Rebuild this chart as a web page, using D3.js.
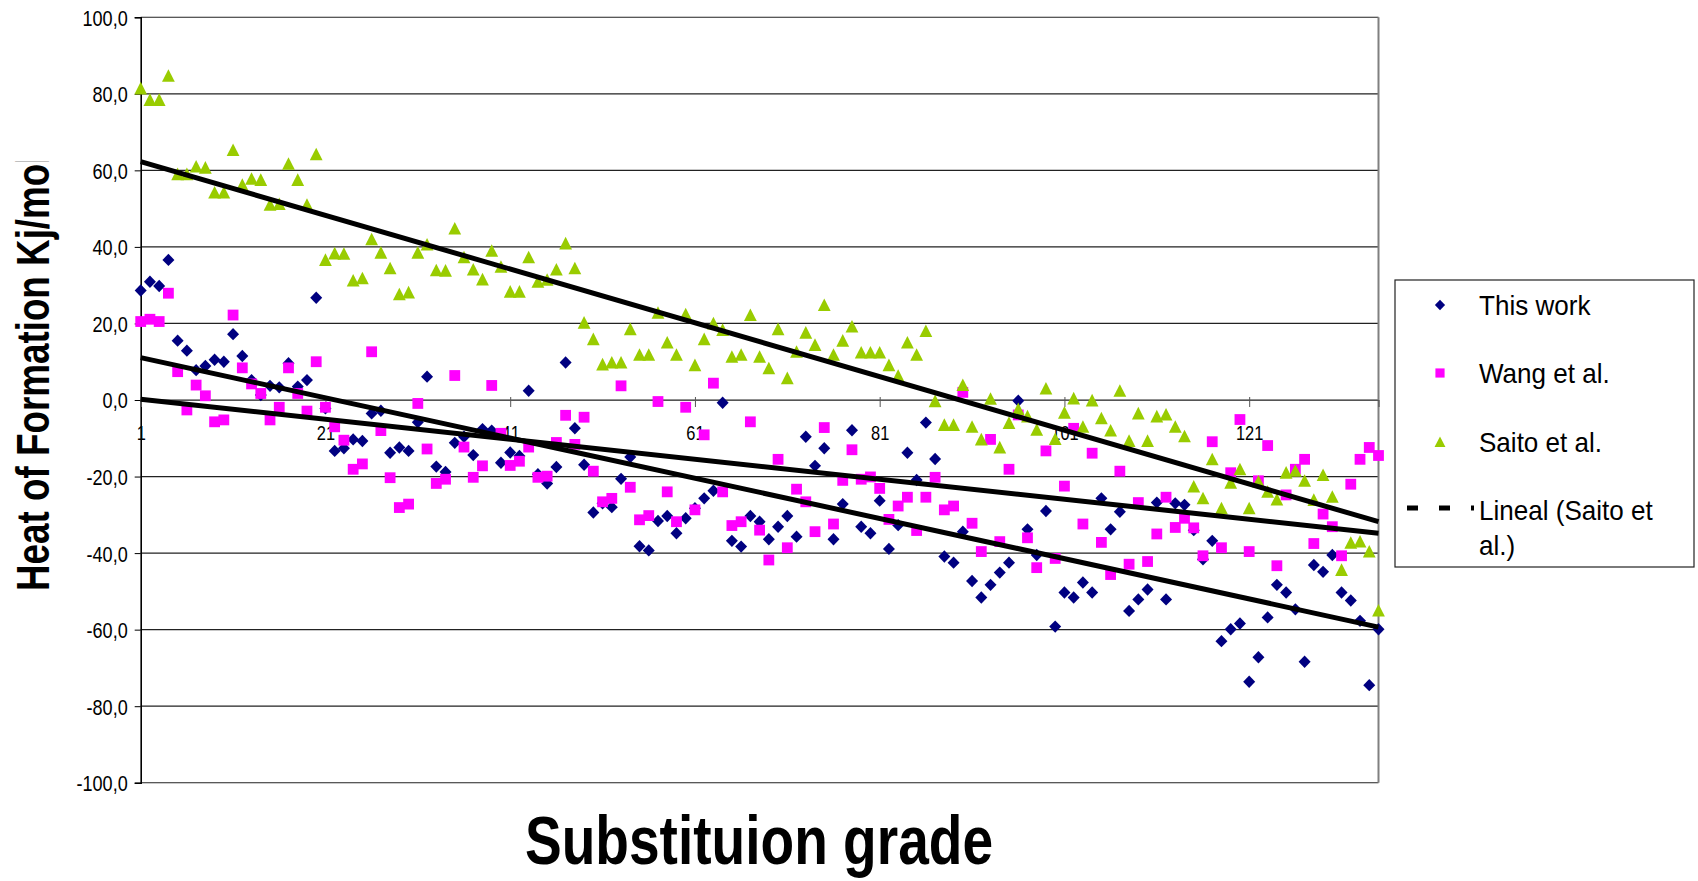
<!DOCTYPE html>
<html>
<head>
<meta charset="utf-8">
<script src="https://cdn.jsdelivr.net/npm/d3@7"></script>
<style>
body { margin:0; background:#fff; }
text { font-family:"Liberation Sans", Arial, sans-serif; fill:#000; }
</style>
</head>
<body>
<div id="chart-box"></div>
<script>

/******data******/
var thisWork = [28.6,30.9,29.8,36.6,15.5,12.9,7.8,8.9,10.5,10.0,17.2,11.5,5.2,1.3,3.7,3.3,9.6,3.5,5.2,26.7,
    -2.2,-13.3,-12.6,-10.3,-10.7,-3.5,-2.8,-13.8,-12.4,-13.3,-5.8,6.1,-17.4,-18.8,-11.2,-9.6,-14.4,-7.6,-8.0,-16.4,
    -13.7,-14.6,2.4,-19.4,-21.8,-17.5,9.8,-7.4,-16.9,-29.4,-27.0,-28.0,-20.6,-14.9,-38.2,-39.3,-31.6,-30.3,-34.8,-30.9,
    -28.3,-25.7,-23.7,-0.7,-36.8,-38.3,-30.3,-31.8,-36.4,-33.1,-30.3,-35.7,-9.6,-17.2,-12.6,-36.4,-27.2,-7.9,-33.1,-34.8,
    -26.3,-38.9,-32.7,-13.8,-20.9,-5.9,-15.4,-40.9,-42.5,-34.4,-47.3,-51.6,-48.3,-45.1,-42.5,-0.2,-33.8,-40.5,-29.0,-59.2,
    -50.3,-51.6,-47.7,-50.3,-25.7,-33.8,-29.2,-55.1,-52.1,-49.5,-26.8,-52.1,-27.0,-27.4,-34.0,-41.6,-36.8,-63.0,-59.9,-58.4,
    -73.6,-67.2,-56.8,-48.3,-50.3,-54.7,-68.4,-43.1,-44.9,-40.5,-50.3,-52.4,-57.7,-74.5,-59.9];

var wang = [20.5,21.1,20.5,27.9,7.4,-2.6,3.9,1.1,-5.7,-5.2,22.2,8.4,4.2,1.7,-5.2,-1.9,8.4,1.7,-2.9,10.0,
    -1.9,-7.0,-10.5,-18.1,-16.7,12.6,-8.0,-20.3,-28.1,-27.2,-0.9,-12.8,-21.8,-20.7,6.4,-12.3,-20.2,-17.2,3.8,-8.7,
    -17.1,-16.0,-12.3,-20.2,-19.9,-11.1,-4.0,-11.6,-4.5,-18.6,-26.6,-25.7,3.7,-22.8,-31.3,-30.2,-0.4,-24.0,-31.8,-1.9,
    -28.7,-9.1,4.4,-24.0,-32.8,-31.8,-5.7,-34.0,-41.8,-15.5,-38.6,-23.3,-26.6,-34.4,-7.2,-32.4,-21.0,-13.0,-20.7,-20.1,
    -23.1,-31.2,-27.7,-25.4,-34.1,-25.4,-20.2,-28.7,-27.7,2.0,-32.2,-39.6,-10.3,-37.0,-18.1,-3.9,-36.0,-43.8,-13.3,-41.4,
    -22.5,-7.4,-32.4,-13.9,-37.2,-45.6,-18.6,-42.9,-26.8,-42.2,-35.0,-25.4,-33.3,-30.9,-33.4,-40.7,-10.9,-38.6,-19.0,-5.1,
    -39.6,-21.1,-11.9,-43.3,-24.8,-18.1,-15.5,-37.5,-29.8,-33.1,-40.7,-22.0,-15.5,-12.4,-14.5];

var saito = [81.4,78.4,78.4,84.7,59.0,59.0,61.0,60.7,54.2,54.2,65.3,56.2,57.8,57.5,51.0,51.2,61.7,57.5,51.0,64.2,
    36.6,38.3,38.2,31.2,31.8,42.0,38.5,34.4,27.6,28.1,38.5,40.6,33.9,33.8,44.8,37.3,34.1,31.5,39.0,34.8,
    28.3,28.3,37.3,30.9,31.4,34.1,40.9,34.4,20.2,15.9,9.3,9.8,9.8,18.5,11.8,11.8,22.8,15.0,11.8,22.4,
    9.1,15.9,20.0,18.3,11.3,11.8,22.2,11.3,8.3,18.5,5.7,12.6,17.6,14.4,24.8,11.8,15.5,19.2,12.4,12.4,
    12.4,9.1,6.3,15.0,11.8,18.0,-0.3,-6.5,-6.5,3.9,-7.0,-10.3,0.3,-12.4,-6.0,-2.4,-4.3,-7.8,3.0,-10.2,
    -3.3,0.4,-7.0,-0.1,-4.8,-8.0,2.4,-10.7,-3.5,-10.7,-4.3,-3.8,-7.0,-9.5,-22.6,-25.7,-15.5,-28.3,-21.6,-18.1,
    -28.3,-21.3,-24.0,-26.0,-19.0,-18.5,-21.1,-26.1,-19.6,-25.3,-44.4,-37.3,-37.0,-39.6,-55.0];

var xTicks = [1, 21, 41, 61, 81, 101, 121];
var yTicks = [-100, -80, -60, -40, -20, 0, 20, 40, 60, 80, 100];
var legendNames = ["This work", "Wang et al.", "Saito et al.", "Lineal (Saito et al.)", "Lineal (This work)", "Lineal (Wang et al.)"];

var navy = "#000080";
var pink = "#ff00ff";
var lime = "#99cc00";

var width = 1698, height = 881;

var x = d3.scaleLinear().domain([1, thisWork.length]).range([140.7, 1378.5]);
var y = d3.scaleLinear().domain([-100, 100]).range([782.75, 17.25]);

var locale = d3.formatLocale({decimal: ",", thousands: ".", grouping: [3], currency: ["", ""], minus: "-"});
var fmt = locale.format(".1f");

var svg = d3.select("#chart-box").append("svg")
    .attr("width", width)
    .attr("height", height);

// squeeze text horizontally like the narrow font of the original
function squeeze(sel, k) {
    sel.each(function () {
        var w = this.getComputedTextLength();
        d3.select(this).attr("textLength", w * k).attr("lengthAdjust", "spacingAndGlyphs");
    });
}

/******grid******/
svg.append("g").selectAll("line")
    .data(yTicks)
    .enter().append("line")
    .attr("x1", x(1)).attr("x2", x(thisWork.length))
    .attr("y1", function (d) { return y(d); })
    .attr("y2", function (d) { return y(d); })
    .attr("stroke", "#222")
    .attr("stroke-width", 1.2);

// right frame
svg.append("line")
    .attr("x1", x(thisWork.length)).attr("x2", x(thisWork.length))
    .attr("y1", y(100)).attr("y2", y(-100))
    .attr("stroke", "#808080").attr("stroke-width", 2);

/******y axis******/
var yAxis = svg.append("g")
    .attr("transform", "translate(" + x(1) + ",0)")
    .call(d3.axisLeft(y).tickValues(yTicks).tickSize(6).tickPadding(7).tickFormat(fmt));
yAxis.select(".domain").attr("stroke", "#000").attr("stroke-width", 1.6);
yAxis.selectAll(".tick line").attr("stroke", "#000");
yAxis.selectAll("text")
    .style("font-family", "Liberation Sans, Arial, sans-serif")
    .style("font-size", "22px")
    .attr("dy", "0.36em");
squeeze(yAxis.selectAll("text"), 0.82);

/******x axis (crosses at 0)******/
var xAxis = svg.append("g")
    .attr("transform", "translate(0," + y(0) + ")")
    .call(d3.axisBottom(x).tickValues(xTicks).tickSize(7).tickPadding(0).tickFormat(d3.format("d")));
xAxis.select(".domain").attr("stroke", "#555").attr("stroke-width", 1.2);
xAxis.selectAll(".tick line").attr("stroke", "#555").attr("y1", -3);
xAxis.selectAll("text")
    .attr("y", 40).attr("dy", 0)
    .style("font-family", "Liberation Sans, Arial, sans-serif")
    .style("font-size", "20px");
squeeze(xAxis.selectAll("text"), 0.82);

/******markers******/
var diamondPath = "M0,-6.2L6,0L0,6.2L-6,0Z";
var squarePath = "M-5.4,-5.4H5.4V5.4H-5.4Z";
var trianglePath = "M0,-6.6L6.4,6H-6.4Z";

function drawSeries(values, path, color) {
    svg.append("g").selectAll("path")
        .data(values)
        .enter().append("path")
        .attr("d", path)
        .attr("fill", color)
        .attr("transform", function (d, i) {
            return "translate(" + x(i + 1) + "," + y(d) + ")";
        });
}
drawSeries(thisWork, diamondPath, navy);
drawSeries(wang, squarePath, pink);
drawSeries(saito, trianglePath, lime);

/******linear trend lines******/
function fit(values) {
    var n = values.length;
    var mx = d3.mean(values, function (d, i) { return i + 1; });
    var my = d3.mean(values);
    var sxy = 0, sxx = 0;
    values.forEach(function (v, i) {
        sxy += (i + 1 - mx) * (v - my);
        sxx += (i + 1 - mx) * (i + 1 - mx);
    });
    var b = sxy / sxx;
    var a = my - b * mx;
    return [[1, a + b], [n, a + b * n]];
}
var trendLine = d3.line()
    .x(function (d) { return x(d[0]); })
    .y(function (d) { return y(d[1]); });

[saito, thisWork, wang].forEach(function (s) {
    svg.append("path")
        .attr("d", trendLine(fit(s)))
        .attr("fill", "none")
        .attr("stroke", "#000")
        .attr("stroke-width", 5);
});

/******titles******/
svg.append("clipPath").attr("id", "ytitle-clip")
    .append("rect").attr("x", 0).attr("y", 161).attr("width", 120).attr("height", 720);
var yTitle = svg.append("g").attr("clip-path", "url(#ytitle-clip)")
    .append("text")
    .attr("transform", "translate(49,591) rotate(-90)")
    .style("font-size", "46px")
    .style("font-weight", "bold")
    .text("Heat of Formation Kj/mol");
squeeze(yTitle, 0.8);

var xTitle = svg.append("text")
    .attr("x", 759).attr("y", 864)
    .attr("text-anchor", "middle")
    .style("font-size", "68px")
    .style("font-weight", "bold")
    .text("Substituion grade");
squeeze(xTitle, 0.81);

/******legend******/
var lx = 1395, ly = 280, lw = 299, lh = 287;
svg.append("clipPath").attr("id", "legend-clip")
    .append("rect").attr("x", lx).attr("y", ly).attr("width", lw).attr("height", lh);
svg.append("rect")
    .attr("x", lx).attr("y", ly).attr("width", lw).attr("height", lh)
    .attr("fill", "#fff").attr("stroke", "#222").attr("stroke-width", 1.2);

var legend = svg.append("g").attr("clip-path", "url(#legend-clip)");
var legendBase = [315, 383, 452, 520, 590, 660];
var legendSymbols = [diamondPath, squarePath, trianglePath];
var legendColors = [navy, pink, lime];

legendNames.forEach(function (name, i) {
    var base = legendBase[i];
    if (i < 3) {
        legend.append("path")
            .attr("d", legendSymbols[i])
            .attr("fill", legendColors[i])
            .attr("transform", "translate(1440," + (base - 10) + ") scale(0.85)");
    } else {
        legend.append("line")
            .attr("x1", 1407).attr("x2", 1474)
            .attr("y1", base - 12).attr("y2", base - 12)
            .attr("stroke", "#000").attr("stroke-width", 5)
            .attr("stroke-dasharray", "11,21");
    }
    // wrap the long trend entries onto two lines
    var lines = name.length > 14 ? [name.slice(0, name.lastIndexOf(" ")), name.slice(name.lastIndexOf(" ") + 1)] : [name];
    lines.forEach(function (t, j) {
        var tx = legend.append("text")
            .attr("x", 1479).attr("y", base + j * 35)
            .style("font-size", "28px")
            .text(t);
        squeeze(tx, 0.93);
    });
});

</script>
</body>
</html>
